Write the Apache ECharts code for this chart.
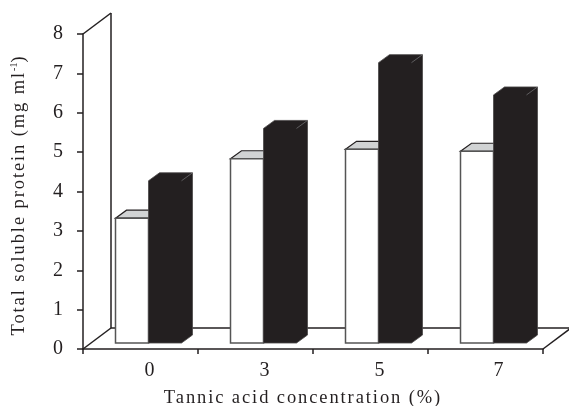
<!DOCTYPE html>
<html><head><meta charset="utf-8">
<style>html,body{margin:0;padding:0;background:#fff}#c{width:569px;height:406px}</style>
<script src="https://cdn.jsdelivr.net/npm/echarts@6/dist/echarts.min.js"></script>
</head><body><div id="c"></div>
<script>
var categories = ['0','3','5','7'];
var whiteValues = [3.17, 4.68, 4.92, 4.87];
var blackValues = [4.12, 5.45, 7.12, 6.3];
var yTicks = {min:0, max:8, interval:1};
var DARK='#231f20', F='"Liberation Serif","Times New Roman",serif';

// The axis titles are letter-spaced in the reference: font size 18.5 marks them.
['fillText','measureText'].forEach(function(m){
  var orig=CanvasRenderingContext2D.prototype[m];
  CanvasRenderingContext2D.prototype[m]=function(){
    this.letterSpacing = this.font.indexOf('18.5px')>=0 ? '1.9px' : '0px';
    return orig.apply(this,arguments);
  };
});

var chart = echarts.init(document.getElementById('c'),null,{renderer:'canvas'});

function line(a,b,color,w){return {type:'line',shape:{x1:a[0],y1:a[1],x2:b[0],y2:b[1]},style:{stroke:color,lineWidth:w}};}
function poly(pts,fill,stroke,w){return {type:'polygon',shape:{points:pts},style:{fill:fill,stroke:stroke||null,lineWidth:w||0}};}

function renderWalls(params,api){
  var dx=28,dy=-21;
  var o=api.coord([0,0]), band=api.size([1,0])[0];
  var left=o[0]-band/2, right=left+band*4, y0=o[1], y8=api.coord([0,8])[1];
  return {type:'group',children:[
    line([left,y8],[left+dx,y8+dy],DARK,1.5),
    line([left+dx,y8+dy],[left+dx,y0+dy],DARK,1.5),
    line([left,y0],[left+dx,y0+dy],DARK,1.5),
    line([left+dx,y0+dy],[right+dx,y0+dy],DARK,1.5),
    line([right,y0],[right+dx,y0+dy],DARK,1.5)
  ]};
}
function renderBar(isBlack){
  return function(params,api){
    var dx=11,dy=-8,base=6,w=33;
    var p=api.coord([api.value(0),api.value(1)]);
    var z=api.coord([api.value(0),0]);
    var cx=p[0]+8;
    var l=isBlack?cx:cx-w, r=l+w, t=p[1]-base, b=z[1]-base;
    if(isBlack){
      return {type:'group',children:[
        poly([[l,t],[l+dx,t+dy],[r+dx,t+dy],[r+dx,b+dy],[r,b],[l,b]],DARK,'#4a4748',0.8),
        line([r,t],[r+dx,t+dy],'#77777a',0.7)
      ]};
    }
    return {type:'group',children:[
      poly([[l,t],[l+dx,t+dy],[r+dx,t+dy],[r,t]],'#d1d3d4',DARK,1.2),
      {type:'rect',shape:{x:l,y:t,width:w,height:b-t},style:{fill:'#fff',stroke:'#555',lineWidth:1.5}}
    ]};
  };
}

chart.setOption({
  animation:false,
  backgroundColor:'#fff',
  grid:{left:83,right:26,top:34,bottom:57,outerBoundsMode:'none'},
  xAxis:{type:'category',data:categories,
    axisLine:{lineStyle:{color:DARK,width:1.5}},
    axisTick:{show:true,alignWithLabel:false,length:5,lineStyle:{color:DARK,width:1.5}},
    axisLabel:{color:DARK,fontFamily:F,fontSize:20,margin:12,padding:[0,0,0,18],
      formatter:function(v,i){return i===3?'{a|'+v+'}':v;},
      rich:{a:{color:DARK,fontFamily:F,fontSize:20,padding:[0,0,0,8]}}},
    name:'Tannic acid concentration (%)',nameLocation:'middle',nameGap:39,
    nameTextStyle:{color:DARK,fontFamily:F,fontSize:18.5,padding:[0,20,0,0]}
  },
  yAxis:{type:'value',min:yTicks.min,max:yTicks.max,interval:yTicks.interval,
    splitLine:{show:false},
    axisLine:{show:true,lineStyle:{color:DARK,width:1.5}},
    axisTick:{show:true,length:6,lineStyle:{color:DARK,width:1.5}},
    axisLabel:{color:DARK,fontFamily:F,fontSize:20,margin:20},
    name:'{t|Total soluble protein (mg ml}{s|-1}{t|)}',nameLocation:'middle',nameGap:53,
    nameTextStyle:{padding:[0,7,0,0],rich:{t:{color:DARK,fontFamily:F,fontSize:18.5},s:{color:DARK,fontFamily:F,fontSize:10,verticalAlign:'top',lineHeight:14}}}
  },
  series:[
    {type:'custom',data:[[0,0]],renderItem:renderWalls,z:1,silent:true,clip:false},
    {type:'custom',data:categories.map(function(c,i){return [i,whiteValues[i]];}),renderItem:renderBar(false),z:2,clip:false},
    {type:'custom',data:categories.map(function(c,i){return [i,blackValues[i]];}),renderItem:renderBar(true),z:3,clip:false}
  ]
});
</script></body></html>
